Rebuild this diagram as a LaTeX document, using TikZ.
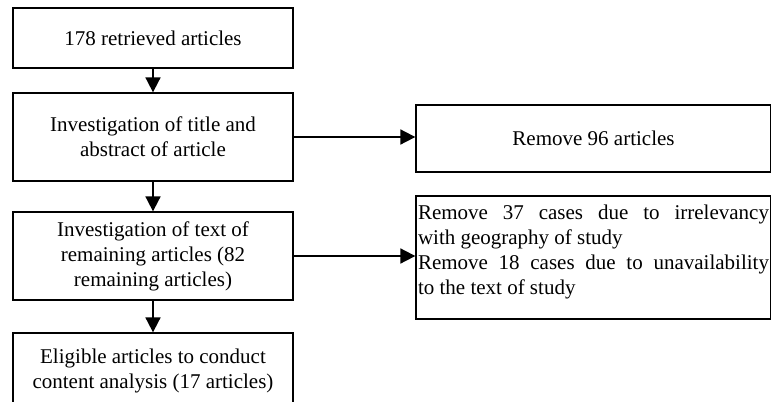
\documentclass[tikz,border=0pt]{standalone}
\usepackage{fontspec}
\setmainfont{Liberation Serif}
\usetikzlibrary{arrows.meta}

\begin{document}
\begin{tikzpicture}[x=1bp, y=-1bp,
  flowbox/.style={draw, line width=1.3bp, minimum width=280bp, inner sep=0pt,
    align=center, font=\fontsize{21bp}{25bp}\selectfont},
  sidebox/.style={draw, line width=1.3bp, minimum width=355bp, inner sep=2bp,
    font=\fontsize{21bp}{25bp}\selectfont},
  flowarrow/.style={line width=1.8bp, -{Triangle[length=15bp, width=15bp]}}]

\useasboundingbox (0,0) rectangle (771,401);

% Steps of the review on the left
\node[flowbox, minimum height=60bp] (retrieved) at (153,38) {178 retrieved articles};
\node[flowbox, minimum height=88bp] (titles) at (153,137)
  {Investigation of title and\\abstract of article};
\node[flowbox, minimum height=88bp] (fulltext) at (153,256)
  {Investigation of text of\\remaining articles (82\\remaining articles)};
\node[flowbox, minimum height=76bp] (eligible) at (153,371)
  {Eligible articles to conduct\\content analysis (17 articles)};

% Removed articles on the right
\node[sidebox, minimum height=67bp, align=center] (removed) at (593.5,138.5)
  {Remove 96 articles};
\node[sidebox, minimum height=123bp, text width=351bp, align=justify] (excluded) at (593.5,257.5)
  {Remove 37 cases due to irrelevancy\linebreak with geography of study\\
   Remove 18 cases due to unavailability\linebreak to the text of study\par
   \vspace{12bp}\hrule height 0pt};

% Arrows
\draw[flowarrow] (retrieved) -- (titles);
\draw[flowarrow] (titles) -- (fulltext);
\draw[flowarrow] (fulltext) -- (eligible);
\draw[flowarrow] (titles.east) -- (titles.east -| removed.west);
\draw[flowarrow] (fulltext.east) -- (fulltext.east -| excluded.west);

\end{tikzpicture}
\end{document}
